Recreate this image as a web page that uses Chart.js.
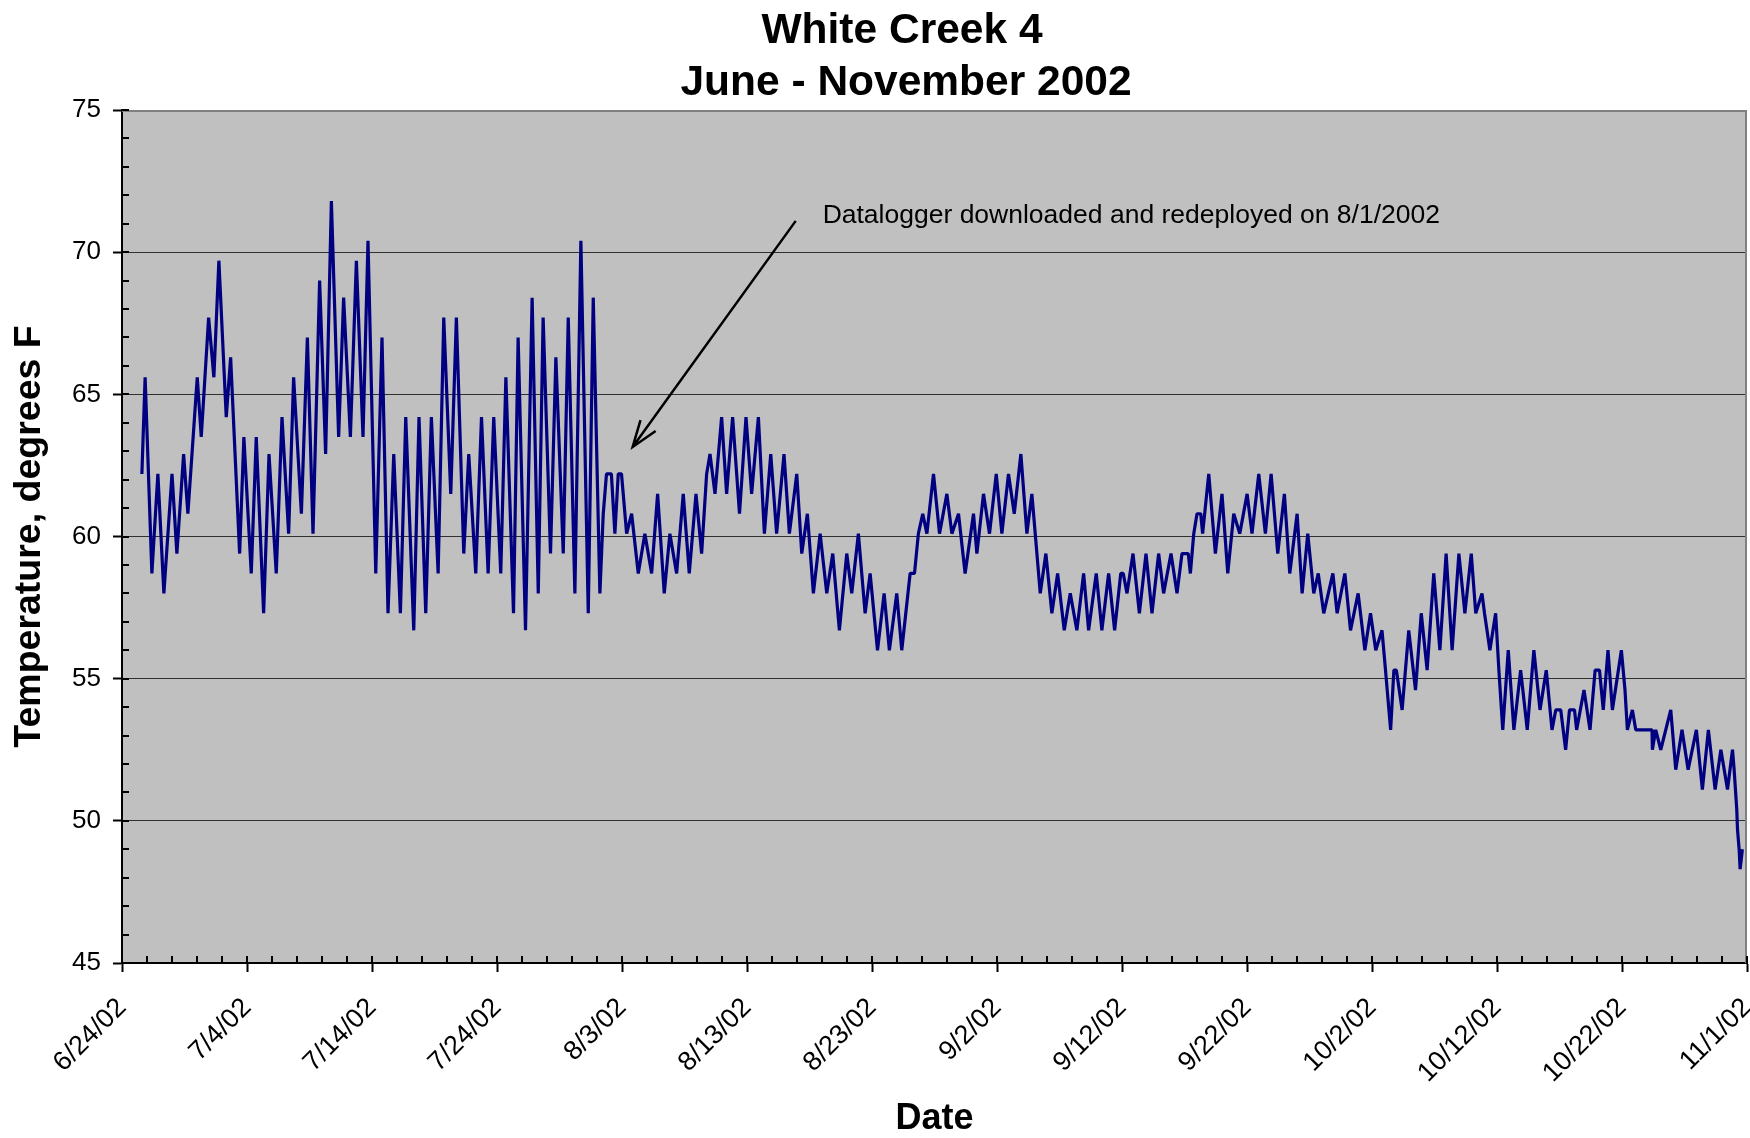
<!DOCTYPE html>
<html>
<head>
<meta charset="utf-8">
<script src="https://cdn.jsdelivr.net/npm/chart.js@4.4.1/dist/chart.umd.min.js"></script>
<style>
html,body{margin:0;padding:0;background:#fff;}
#wrap{width:1750px;height:1138px;position:relative;}
canvas{display:block;}
</style>
</head>
<body>
<div id="wrap"><canvas id="chart" width="1750" height="1138"></canvas></div>
<script>
// ---------- text ----------
const titleLines = ['White Creek 4', 'June - November 2002'];
const xAxisTitle = 'Date';
const yAxisTitle = 'Temperature, degrees F';
const annotationText = 'Datalogger downloaded and redeployed on 8/1/2002';

// ---------- axes ----------
const startDate = [2002, 5, 24];               // 6/24/02 = day 0
const xTickDays = [0,10,20,30,40,50,60,70,80,90,100,110,120,130];
const yTickValues = [45,50,55,60,65,70,75];
const xMinorStepDays = 2;
const yMinorStep = 1;

// annotation anchor points, in data units [day, °F]
const arrowTip = [40.85, 63.15];
const arrowTail = [53.9, 71.1];
const annotationAnchor = [56.05, 71.3];

// ---------- readings: [days since 6/24/02, temperature °F] ----------
const juneReadings = [
  [1.59,62.2],[1.85,65.6],[2.39,58.7],[2.87,62.2],[3.35,58.0],[4.00,62.2],[4.39,59.4],[4.93,62.9],
  [5.27,60.8],[6.02,65.6],[6.34,63.5],[6.93,67.7]
];
const julyReadings = [
  [7.35,65.6],[7.75,69.7],[8.34,64.2],[8.69,66.3],[9.41,59.4],[9.75,63.5],[10.34,58.7],[10.74,63.5],
  [11.33,57.3],[11.76,62.9],[12.34,58.7],[12.80,64.2],[13.33,60.1],[13.73,65.6],[14.35,60.8],[14.83,67.0],
  [15.28,60.1],[15.81,69.0],[16.29,62.9],[16.75,71.8],[17.33,63.5],[17.73,68.4],[18.27,63.5],[18.75,69.7],
  [19.28,63.5],[19.68,70.4],[20.30,58.7],[20.80,67.0],[21.28,57.3],[21.74,62.9],[22.27,57.3],[22.70,64.2],
  [23.34,56.7],[23.76,64.2],[24.30,57.3],[24.75,64.2],[25.29,58.7],[25.74,67.7],[26.30,61.5],[26.75,67.7],
  [27.34,59.4],[27.74,62.9],[28.30,58.7],[28.76,64.2],[29.29,58.7],[29.74,64.2],[30.30,58.7],[30.71,65.6],
  [31.32,57.3],[31.69,67.0],[32.28,56.7],[32.81,68.4],[33.30,58.0],[33.69,67.7],[34.28,59.4],[34.71,66.3],
  [35.30,59.4],[35.70,67.7],[36.23,58.0],[36.71,70.4],[37.30,57.3],[37.70,68.4]
];
const augustReadings = [
  [38.23,58.0],[38.50,60.8],[38.76,62.2],[39.15,62.2],[39.43,60.1],[39.70,62.2],[39.96,62.2],[40.37,60.1],
  [40.77,60.8],[41.30,58.7],[41.83,60.1],[42.37,58.7],[42.85,61.5],[43.38,58.0],[43.83,60.1],[44.37,58.7],
  [44.90,61.5],[45.38,58.7],[45.92,61.5],[46.37,59.4],[46.77,62.2],[47.04,62.9],[47.44,61.5],[47.97,64.2],
  [48.37,61.5],[48.85,64.2],[49.40,60.8],[49.92,64.2],[50.37,61.5],[50.91,64.2],[51.39,60.1],[51.90,62.9],
  [52.37,60.1],[52.96,62.9],[53.39,60.1],[53.98,62.2],[54.38,59.4],[54.83,60.8],[55.31,58.0],[55.85,60.1],
  [56.38,58.0],[56.86,59.4],[57.39,56.7],[57.98,59.4],[58.38,58.0],[58.91,60.1],[59.45,57.3],[59.85,58.7],
  [60.44,56.0],[60.97,58.0],[61.39,56.0],[61.98,58.0],[62.38,56.0],[63.05,58.7],[63.40,58.7],[63.71,60.1],
  [64.06,60.8],[64.39,60.1],[64.92,62.2],[65.40,60.1],[65.99,61.5],[66.39,60.1],[66.92,60.8],[67.45,58.7],
  [68.12,60.8],[68.39,59.4],[68.92,61.5]
];
const septemberReadings = [
  [69.40,60.1],[69.94,62.2],[70.39,60.1],[70.92,62.2],[71.38,60.8],[71.91,62.9],[72.39,60.1],[72.79,61.5],
  [73.46,58.0],[73.91,59.4],[74.39,57.3],[74.85,58.7],[75.38,56.7],[75.86,58.0],[76.39,56.7],[76.93,58.7],
  [77.33,56.7],[77.94,58.7],[78.39,56.7],[78.93,58.7],[79.41,56.7],[79.90,58.7],[80.10,58.7],[80.40,58.0],
  [80.88,59.4],[81.39,57.3],[81.92,59.4],[82.40,57.3],[82.93,59.4],[83.33,58.0],[83.92,59.4],[84.40,58.0],
  [84.80,59.4],[85.30,59.4],[85.47,58.7],[85.74,60.1],[86.00,60.8],[86.30,60.8],[86.45,60.1],[86.94,62.2],
  [87.47,59.4],[88.00,61.5],[88.46,58.7],[88.94,60.8],[89.42,60.1],[90.01,61.5],[90.40,60.1],[90.94,62.2],
  [91.47,60.1],[91.93,62.2],[92.46,59.4],[92.99,61.5],[93.42,58.7],[94.01,60.8],[94.41,58.0],[94.86,60.1],
  [95.34,58.0],[95.70,58.7],[96.14,57.3],[96.87,58.7],[97.21,57.3],[97.83,58.7],[98.28,56.7],[98.89,58.0]
];
const octoberReadings = [
  [99.43,56.0],[99.88,57.3],[100.30,56.0],[100.80,56.7],[101.08,55.3],[101.49,53.2],[101.75,55.3],[101.95,55.3],
  [102.41,53.9],[102.94,56.7],[103.48,54.6],[103.94,57.3],[104.41,55.3],[104.94,58.7],[105.43,56.0],[105.93,59.4],
  [106.41,56.0],[106.95,59.4],[107.43,57.3],[107.94,59.4],[108.30,57.3],[108.80,58.0],[109.00,57.3],[109.20,56.7],
  [109.43,56.0],[109.89,57.3],[110.15,55.3],[110.46,53.2],[110.90,56.0],[111.35,53.2],[111.89,55.3],[112.42,53.2],
  [112.95,56.0],[113.44,53.9],[113.94,55.3],[114.40,53.2],[114.70,53.9],[115.10,53.9],[115.49,52.5],[115.80,53.9],
  [116.20,53.9],[116.37,53.2],[116.96,54.6],[117.44,53.2],[117.85,55.3],[118.20,55.3],[118.50,53.9],[118.88,56.0],
  [119.23,53.9],[119.95,56.0],[120.24,54.6],[120.43,53.2],[120.83,53.9],[121.10,53.2],[122.40,53.2],[122.43,52.5],
  [122.70,53.2],[123.10,52.5],[123.90,53.9],[124.30,51.8],[124.80,53.2],[125.29,51.8],[125.95,53.2],[126.43,51.1],
  [126.91,53.2],[127.45,51.1],[127.91,52.5],[128.44,51.1],[128.84,52.5],[128.97,51.8],[129.18,50.4],[129.24,49.7],
  [129.37,49.0],[129.45,48.3],[129.63,49.0]
];

// ---------- helpers ----------
const FONT = '"Liberation Sans", Arial, Helvetica, sans-serif';
function dayLabel(d) {
  const dt = new Date(startDate[0], startDate[1], startDate[2] + Math.round(d));
  return (dt.getMonth() + 1) + '/' + dt.getDate() + '/' + String(dt.getFullYear()).slice(2);
}
const points = [...juneReadings, ...julyReadings, ...augustReadings, ...septemberReadings, ...octoberReadings]
  .map(([d, t]) => ({ x: d, y: t }));

const decor = {
  id: 'decor',
  beforeDraw(chart) {
    const { ctx, chartArea: a } = chart;
    ctx.save();
    ctx.fillStyle = '#ffffff';
    ctx.fillRect(0, 0, chart.width, chart.height);
    ctx.fillStyle = '#c0c0c0';
    ctx.fillRect(a.left, a.top, a.right - a.left, a.bottom - a.top);
    ctx.restore();
  },
  afterDraw(chart) {
    const { ctx, chartArea: a, scales: { x, y } } = chart;
    ctx.save();
    // plot-area frame (top & right)
    ctx.strokeStyle = '#808080';
    ctx.lineWidth = 2;
    ctx.beginPath();
    ctx.moveTo(a.left, a.top + 1);
    ctx.lineTo(a.right - 1, a.top + 1);
    ctx.lineTo(a.right - 1, a.bottom);
    ctx.stroke();

    // inner tick marks
    ctx.strokeStyle = '#000';
    ctx.lineWidth = 2;
    ctx.beginPath();
    for (let v = y.min; v <= y.max + 1e-9; v += yMinorStep) {
      const py = Math.round(y.getPixelForValue(v));
      ctx.moveTo(a.left, py);
      ctx.lineTo(a.left + 7, py);
    }
    for (let d = x.min; d <= x.max + 1e-9; d += xMinorStepDays) {
      const px = Math.round(x.getPixelForValue(d));
      ctx.moveTo(px, a.bottom);
      ctx.lineTo(px, a.bottom - 7);
    }
    ctx.stroke();

    // annotation arrow
    const tx = x.getPixelForValue(arrowTip[0]), ty = y.getPixelForValue(arrowTip[1]);
    const sx = x.getPixelForValue(arrowTail[0]), sy = y.getPixelForValue(arrowTail[1]);
    ctx.strokeStyle = '#000';
    ctx.lineWidth = 2.5;
    ctx.beginPath();
    ctx.moveTo(sx, sy);
    ctx.lineTo(tx, ty);
    const ang = Math.atan2(sy - ty, sx - tx);
    const hl = 28, spread = 0.34;
    ctx.moveTo(tx + hl * Math.cos(ang - spread), ty + hl * Math.sin(ang - spread));
    ctx.lineTo(tx, ty);
    ctx.lineTo(tx + hl * Math.cos(ang + spread), ty + hl * Math.sin(ang + spread));
    ctx.stroke();

    // annotation text
    ctx.fillStyle = '#000';
    ctx.font = '26.5px ' + FONT;
    ctx.textAlign = 'left';
    ctx.textBaseline = 'middle';
    ctx.fillText(annotationText, x.getPixelForValue(annotationAnchor[0]), y.getPixelForValue(annotationAnchor[1]));

    // titles
    ctx.font = 'bold 42.5px ' + FONT;
    ctx.textAlign = 'center';
    ctx.fillText(titleLines[0], 902, 31);
    ctx.fillText(titleLines[1], 906, 83);

    ctx.font = 'bold 36px ' + FONT;
    ctx.fillText(xAxisTitle, (a.left + a.right) / 2, 1119);

    ctx.translate(30, (a.top + a.bottom) / 2);
    ctx.rotate(-Math.PI / 2);
    ctx.font = 'bold 37.5px ' + FONT;
    ctx.fillText(yAxisTitle, 0, 0);
    ctx.restore();
  }
};

new Chart(document.getElementById('chart'), {
  type: 'line',
  data: {
    datasets: [{
      data: points,
      borderColor: '#000080',
      borderWidth: 3.2,
      borderJoinStyle: 'bevel',
      pointRadius: 0,
      tension: 0,
      fill: false
    }]
  },
  options: {
    responsive: false,
    animation: false,
    devicePixelRatio: 1,
    layout: { padding: { left: 0, right: 3, top: 110, bottom: 0 } },
    plugins: { legend: { display: false }, tooltip: { enabled: false }, title: { display: false } },
    scales: {
      x: {
        type: 'linear',
        min: xTickDays[0],
        max: xTickDays[xTickDays.length - 1],
        afterBuildTicks: s => { s.ticks = xTickDays.map(v => ({ value: v })); },
        afterFit: s => { s.height = 175; s.paddingLeft = 0; s.paddingRight = 0; },
        ticks: {
          autoSkip: false,
          minRotation: 45,
          maxRotation: 45,
          padding: 20,
          color: '#000',
          font: { family: FONT, size: 27 },
          callback: v => dayLabel(v)
        },
        grid: { drawOnChartArea: false, tickLength: 9, tickColor: '#000', tickWidth: 2 },
        border: { display: true, color: '#000', width: 2 }
      },
      y: {
        type: 'linear',
        min: yTickValues[0],
        max: yTickValues[yTickValues.length - 1],
        afterBuildTicks: s => { s.ticks = yTickValues.map(v => ({ value: v })); },
        afterFit: s => { s.width = 122; },
        ticks: {
          padding: 12,
          color: '#000',
          font: { family: FONT, size: 26 },
          callback: v => String(v)
        },
        grid: {
          color: c => (c.tick && (c.tick.value === yTickValues[0] || c.tick.value === yTickValues[yTickValues.length - 1])) ? 'rgba(0,0,0,0)' : '#303030',
          lineWidth: 1,
          tickLength: 9,
          tickColor: '#000',
          tickWidth: 2
        },
        border: { display: true, color: '#000', width: 2 }
      }
    }
  },
  plugins: [decor]
});
</script>
</body>
</html>
